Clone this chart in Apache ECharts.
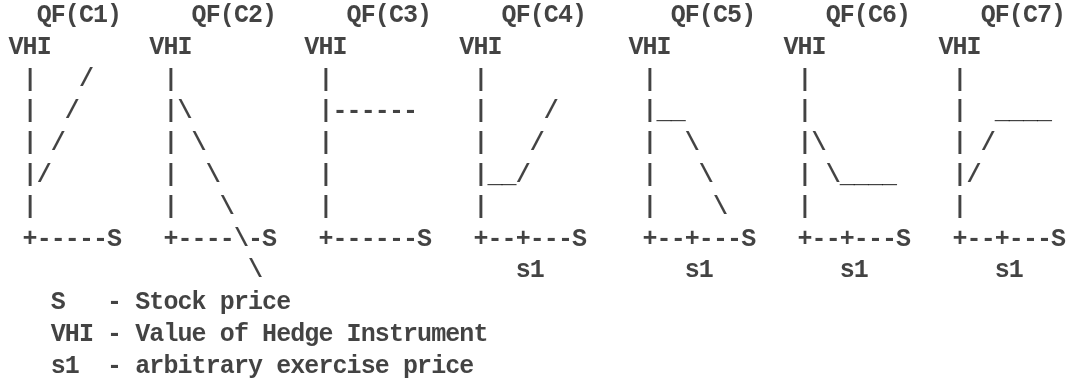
<!DOCTYPE html>
<html>
<head>
<meta charset="utf-8">
<script src="https://cdn.jsdelivr.net/npm/echarts@6/dist/echarts.min.js"></script>
<style>
  html, body { margin: 0; padding: 0; background: #ffffff; }
  #chart { width: 1066px; height: 382px; }
</style>
</head>
<body>
<div id="chart"></div>
<script>
// Payoff sketches of the seven hedge instruments QF(C1)..QF(C7),
// drawn as a fixed-pitch character diagram: VHI against stock price S.
const sketchRows = [
  '  QF(C1)     QF(C2)     QF(C3)     QF(C4)      QF(C5)     QF(C6)     QF(C7)',
  'VHI       VHI        VHI        VHI         VHI        VHI        VHI',
  ' |   /     |          |          |           |          |          |',
  ' |  /      |\\         |------    |    /      |__        |          |  ____',
  ' | /       | \\        |          |   /       |  \\       |\\         | /',
  ' |/        |  \\       |          |__/        |   \\      | \\____    |/',
  ' |         |   \\      |          |           |    \\     |          |',
  ' +-----S   +----\\-S   +------S   +--+---S    +--+---S   +--+---S   +--+---S',
  '                 \\                  s1          s1         s1         s1'
];

// Key to the symbols used in the sketches.
const keySymbols = ['S', 'VHI', 's1'];
const keyMeanings = ['Stock price', 'Value of Hedge Instrument', 'arbitrary exercise price'];

// Full text block: sketches followed by the key lines.
const keyRows = keySymbols.map((s, i) => '   ' + s.padEnd(4, ' ') + '- ' + keyMeanings[i]);
const allRows = sketchRows.concat(keyRows);

// Vertical bars are set a little smaller so the axis reads as a broken line.
const barLabel = { fontSize: 23 };

// One point per printed character: x = column, y = row.
const glyphs = [];
allRows.forEach((line, row) => {
  for (let col = 0; col < line.length; col++) {
    const ch = line[col];
    if (ch === ' ') continue;
    const item = { value: [col, row], ch: ch };
    if (ch === '|') item.label = barLabel;
    glyphs.push(item);
  }
});

const chart = echarts.init(document.getElementById('chart'), null, { renderer: 'canvas' });
chart.setOption({
  backgroundColor: '#ffffff',
  animation: false,
  grid: { left: 15.95, top: 16, width: 1042.66, height: 350.9, containLabel: false },
  xAxis: { type: 'value', min: 0, max: 74, show: false, splitLine: { show: false } },
  yAxis: { type: 'value', min: 0, max: 11, inverse: true, show: false, splitLine: { show: false } },
  series: [{
    type: 'scatter',
    silent: true,
    clip: false,
    symbolSize: 1,
    itemStyle: { color: 'rgba(0,0,0,0)' },
    data: glyphs,
    label: {
      show: true,
      position: 'inside',
      align: 'center',
      verticalAlign: 'middle',
      formatter: p => p.data.ch,
      fontFamily: '"Liberation Mono", monospace',
      fontWeight: 'bold',
      fontSize: 25,
      color: '#141414'
    }
  }]
});
</script>
</body>
</html>
